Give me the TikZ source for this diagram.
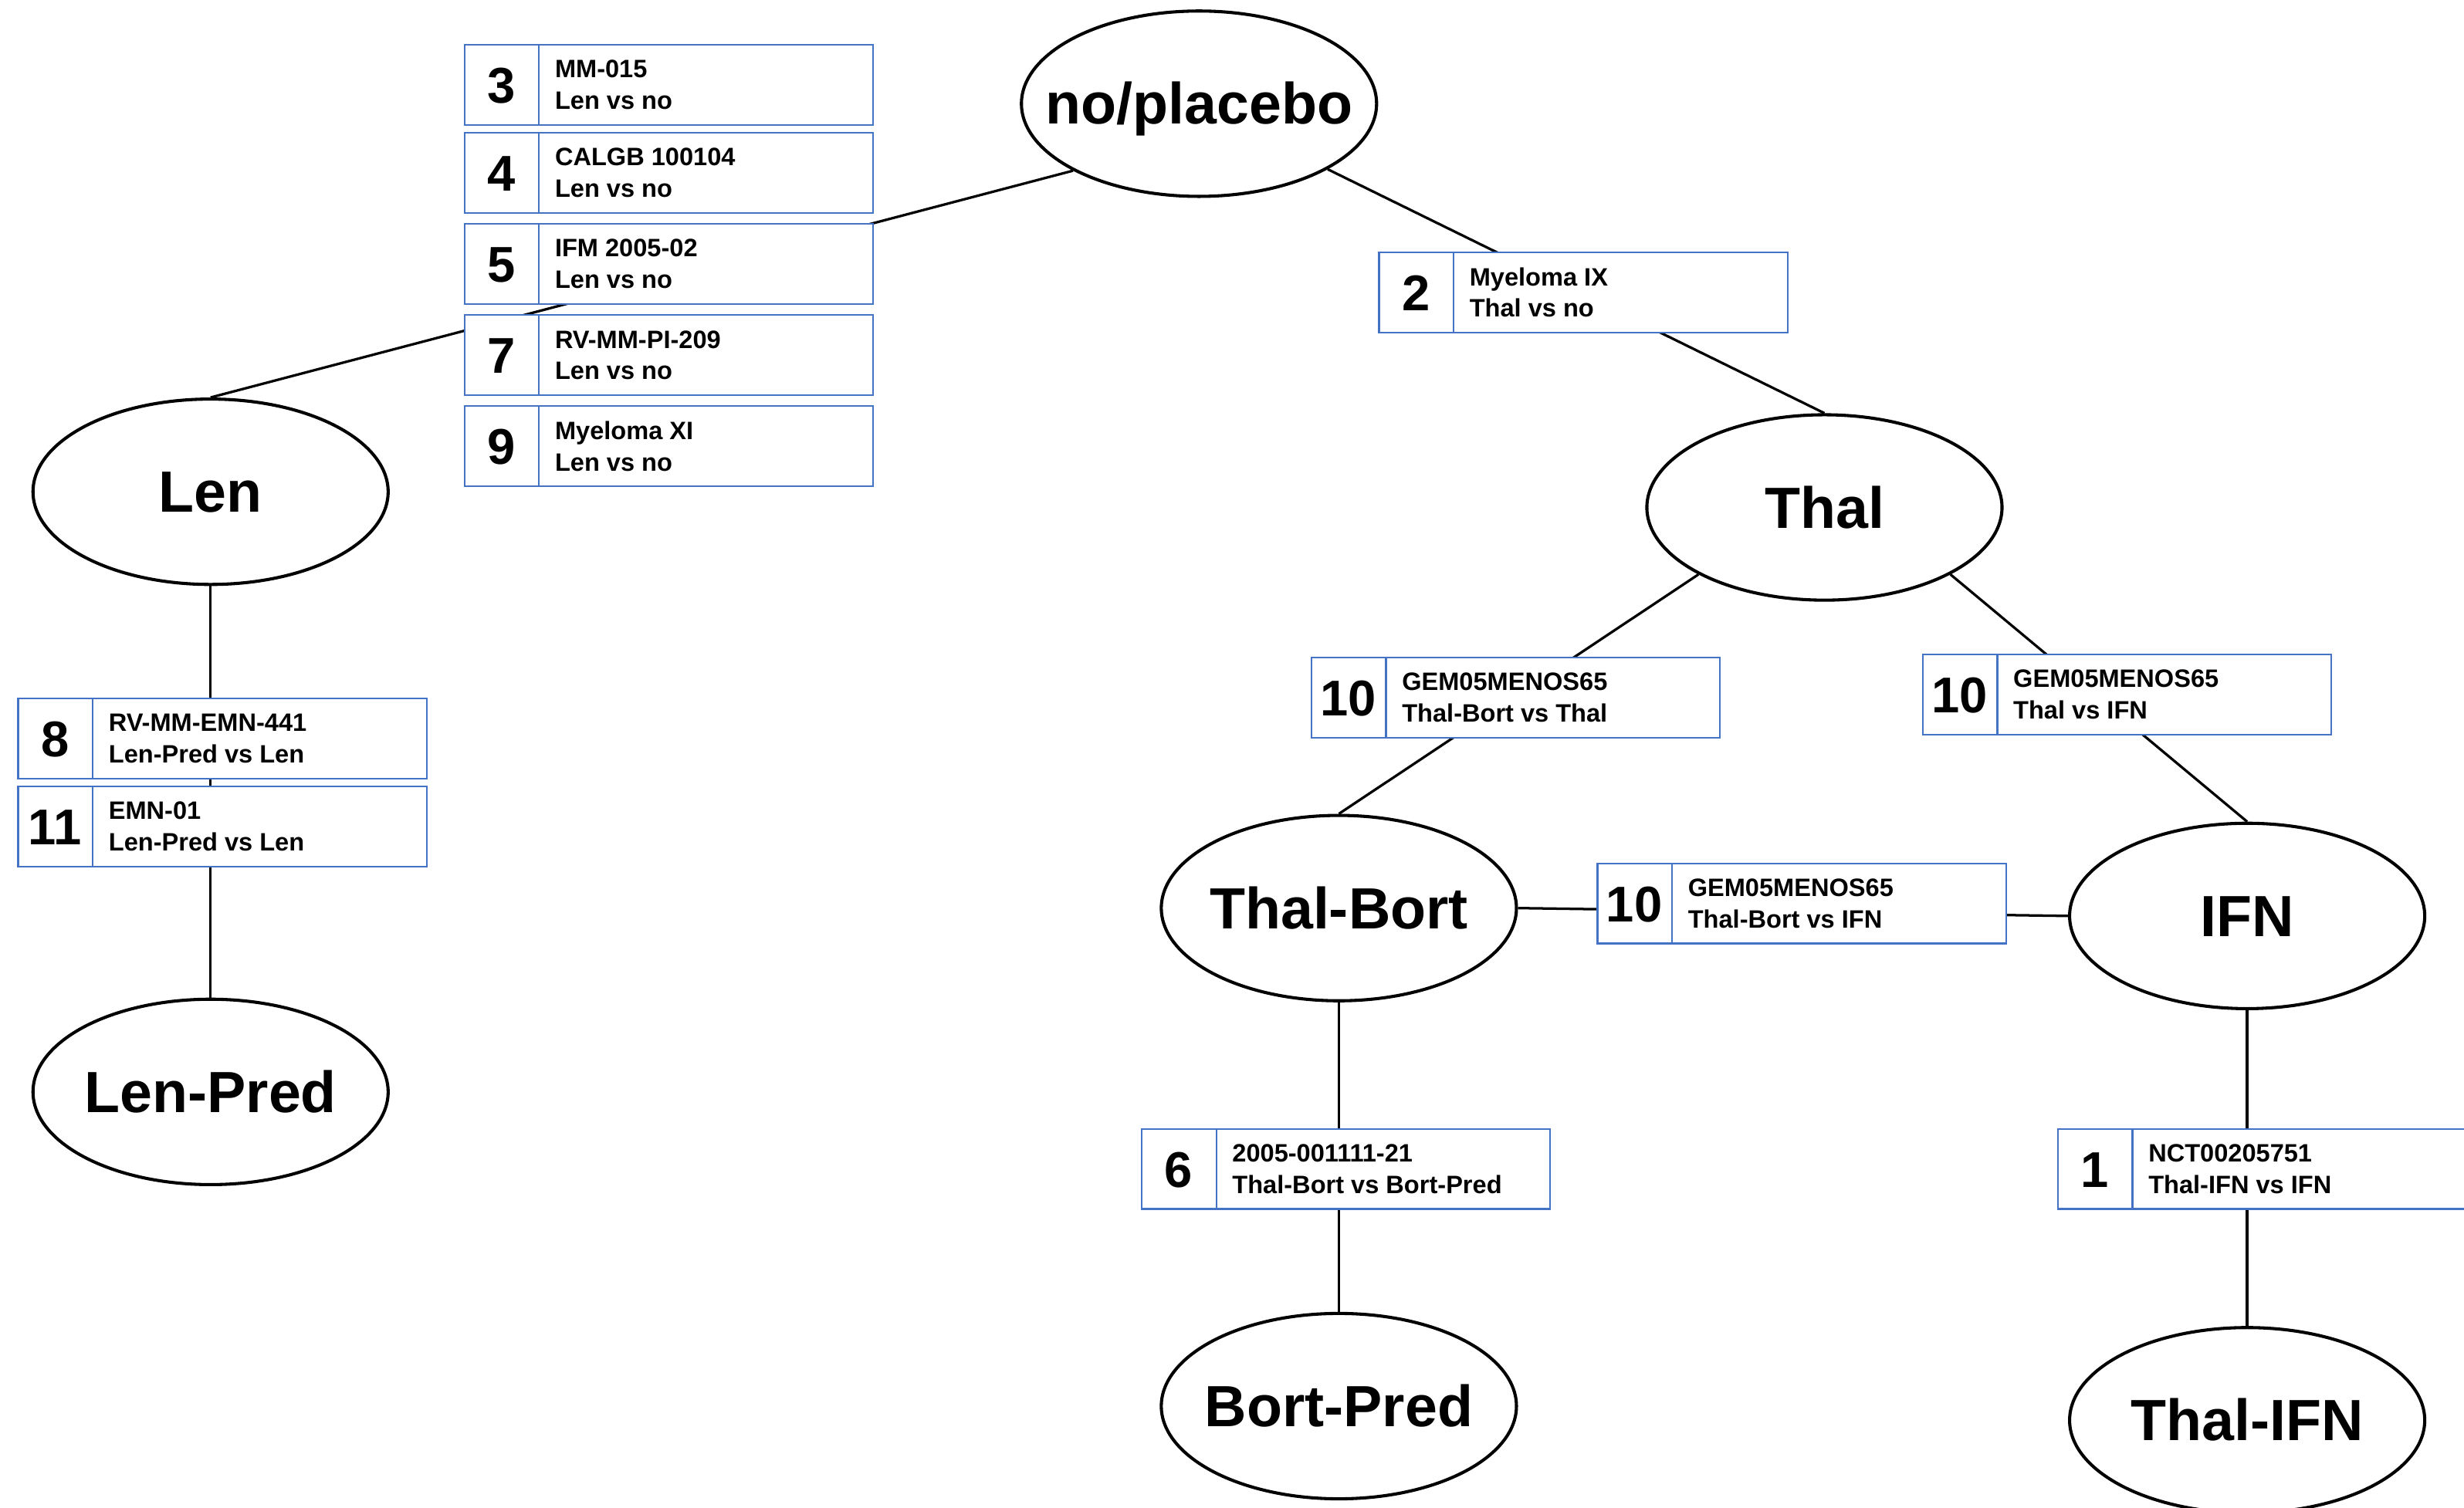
\documentclass[tikz,border=0pt]{standalone}
\usepackage{fontspec}
\setmainfont{Liberation Sans}
\usetikzlibrary{shapes.geometric}
\definecolor{boxblue}{HTML}{4472C4}
\tikzset{
  x=1pt, y=-1pt,
  arm/.style={ellipse, draw=black, line width=2pt, fill=white, minimum width=226pt, minimum height=118pt, inner sep=0pt},
  armtxt/.style={inner sep=0pt, anchor=base, font=\fontsize{37}{40}\selectfont\bfseries},
  link/.style={draw=black, line width=1.6pt},
  boxst/.style={rectangle, draw=boxblue, line width=1.1pt, fill=white, minimum width=260pt, minimum height=51pt, inner sep=0pt},
  divst/.style={draw=boxblue, line width=1.1pt},
  numst/.style={inner sep=0pt, anchor=base, font=\fontsize{32}{34}\selectfont\bfseries},
  txtst/.style={inner sep=0pt, align=left, font=\fontsize{16}{20}\selectfont\bfseries}
}
\newcommand\armnode[4]{%
  \node[arm] (#1) at (#2,#3) {};
  \node[armtxt] (#1t) at ([yshift=-13pt]#1.center) {#4};
}
\newcommand\trialbox[6]{%
  \node[boxst, anchor=north west] (#1) at (#2,#3) {};
  \draw[divst] ([xshift=48pt]#1.north west) -- ([xshift=48pt]#1.south west);
  \node[numst] (#1n) at ([xshift=24pt,yshift=-11.5pt]#1.west) {#4};
  \node[txtst, anchor=west] (#1t) at ([xshift=58pt]#1.west) {#5\\#6};
}
\begin{document}
\begin{tikzpicture}
\useasboundingbox[fill=white] (0,0) rectangle (1568,959.4);
% treatment nodes
\armnode{np}{763}{66}{no/placebo}
\armnode{len}{134}{313}{Len}
\armnode{lenpred}{134}{695}{Len-Pred}
\armnode{thal}{1161}{323}{Thal}
\armnode{thalbort}{852}{578}{Thal-Bort}
\armnode{ifn}{1430}{583}{IFN}
\armnode{bortpred}{852}{895}{Bort-Pred}
\armnode{thalifn}{1430}{904}{Thal-IFN}
% connectors
\draw[link] (np.208) -- (len.north);
\draw[link] (np.333) -- (thal.north);
\draw[link] (len.south) -- (lenpred.north);
\draw[link] (thal.208) -- (thalbort.north);
\draw[link] (thal.332) -- (ifn.north);
\draw[link] (thalbort.east) -- (ifn.west);
\draw[link] (thalbort.south) -- (bortpred.north);
\draw[link] (ifn.south) -- (thalifn.north);
% trial boxes
\trialbox{t3}{295}{28}{3}{MM-015}{Len vs no}
\trialbox{t4}{295}{84}{4}{CALGB 100104}{Len vs no}
\trialbox{t5}{295}{142}{5}{IFM 2005-02}{Len vs no}
\trialbox{t7}{295}{200}{7}{RV-MM-PI-209}{Len vs no}
\trialbox{t9}{295}{258}{9}{Myeloma XI}{Len vs no}
\trialbox{t2}{877}{160}{2}{Myeloma IX}{Thal vs no}
\trialbox{t8}{11}{444}{8}{RV-MM-EMN-441}{Len-Pred vs Len}
\trialbox{t11}{11}{500}{11}{EMN-01}{Len-Pred vs Len}
\trialbox{t10a}{834}{418}{10}{GEM05MENOS65}{Thal-Bort vs Thal}
\trialbox{t10b}{1223}{416}{10}{GEM05MENOS65}{Thal vs IFN}
\trialbox{t10c}{1016}{549}{10}{GEM05MENOS65}{Thal-Bort vs IFN}
\trialbox{t6}{726}{718}{6}{2005-001111-21}{Thal-Bort vs Bort-Pred}
\trialbox{t1}{1309}{718}{1}{NCT00205751}{Thal-IFN vs IFN}
\end{tikzpicture}
\end{document}
